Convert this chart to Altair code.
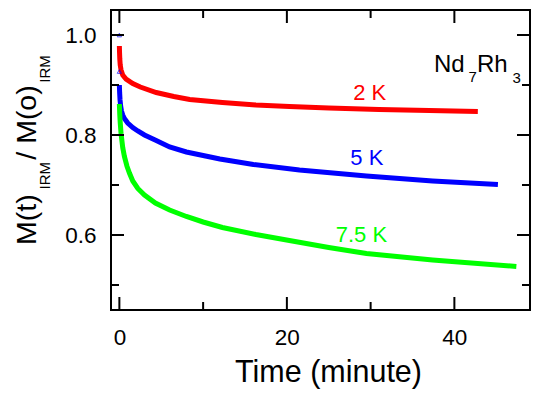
import altair as alt
import pandas as pd

# ---- data ----
red_t = [0, 0.02, 0.05, 0.1, 0.2, 0.4, 0.8, 1.6, 2.5, 4.4, 6.5, 8.4, 12.3, 16.3, 20.3, 25, 31, 37, 42.8]
red_v = [0.978, 0.965, 0.952, 0.94, 0.93, 0.92, 0.912, 0.903, 0.896, 0.885, 0.877, 0.871, 0.865, 0.86, 0.857, 0.854, 0.851, 0.849, 0.847]

blue_t = [0, 0.03, 0.08, 0.15, 0.25, 0.4, 0.6, 1.0, 1.6, 2.2, 3, 4.4, 6, 8, 12, 16, 21.5, 29.5, 37.4, 45.2]
blue_v = [0.9, 0.885, 0.87, 0.858, 0.848, 0.84, 0.833, 0.824, 0.815, 0.808, 0.8, 0.789, 0.776, 0.766, 0.752, 0.741, 0.73, 0.718, 0.708, 0.701]

green_t = [0, 0.05, 0.1, 0.2, 0.4, 0.6, 0.9, 1.2, 1.6, 2.2, 3, 4.3, 6, 8, 10, 12.3, 16.3, 20.3, 25, 29.5, 37.4, 47.4]
green_v = [0.862, 0.84, 0.825, 0.803, 0.775, 0.757, 0.738, 0.724, 0.708, 0.693, 0.68, 0.664, 0.65, 0.637, 0.626, 0.615, 0.601, 0.589, 0.575, 0.563, 0.55, 0.537]

outlier_t = [0, 0]
outlier_v = [1.0, 0.927]

series_names = ["2 K", "5 K", "7.5 K"]
series_colors = ["#ff0000", "#0000ff", "#00ff00"]
label_t = [29.9, 29.55, 28.9]
label_v = [0.87, 0.74, 0.587]

x_major = [0, 20, 40]
x_minor = [10, 30]
y_major = [0.6, 0.8, 1.0]
y_minor = [0.5, 0.7, 0.9]

W, H = 419, 300
PX_X = 8.375          # pixels per minute
PX_Y = 500.0          # pixels per unit of M/M0
X_DOMAIN = [-1, -1 + W / PX_X]
Y_DOMAIN = [0.45, 1.05]
FONT = "Liberation Sans"
MAJ, MIN = 13, 8

rows = []
for name, ts, vs in zip(series_names, [red_t, blue_t, green_t], [red_v, blue_v, green_v]):
    for t, v in zip(ts, vs):
        rows.append({"t": t, "v": v, "series": name})
curves = pd.DataFrame(rows)

xs = alt.Scale(domain=X_DOMAIN, nice=False, zero=False)
ys = alt.Scale(domain=Y_DOMAIN, nice=False, zero=False)
x_axis = alt.Axis(values=x_major, ticks=False, domain=False, grid=False, title=None,
                  labelFontSize=22.5, labelPadding=16, labelFont=FONT, labelColor="black",
                  labelFlush=False, format=".0f")
y_axis = alt.Axis(values=y_major, ticks=False, domain=False, grid=False, title=None,
                  labelFontSize=22.5, labelPadding=15, labelFont=FONT, labelColor="black",
                  format=".1f")
X = alt.X("t:Q", scale=xs, axis=x_axis)
Y = alt.Y("v:Q", scale=ys, axis=y_axis)
color = alt.Color("series:N", scale=alt.Scale(domain=series_names, range=series_colors), legend=None)

lines = alt.Chart(curves).mark_line(strokeWidth=5, clip=True).encode(x=X, y=Y, color=color, detail="series:N")

outl = alt.Chart(pd.DataFrame({"t": outlier_t, "v": outlier_v})).mark_point(
    shape="triangle-up", size=18, color="#0000ff", filled=False, strokeWidth=1
).encode(x=X, y=Y)

labels = alt.Chart(pd.DataFrame({"t": label_t, "v": label_v, "series": series_names})).mark_text(
    fontSize=22, font=FONT, align="center", baseline="alphabetic"
).encode(x=X, y=Y, text="series:N", color=color)

# inward ticks on all four sides, as rules in data units
def xticks(vals, length, top):
    if top:
        a, b = Y_DOMAIN[1], Y_DOMAIN[1] - length / PX_Y
    else:
        a, b = Y_DOMAIN[0], Y_DOMAIN[0] + length / PX_Y
    df = pd.DataFrame({"t": vals, "a": [a] * len(vals), "b": [b] * len(vals)})
    return alt.Chart(df).mark_rule(color="black", strokeWidth=2).encode(
        x=alt.X("t:Q", scale=xs, axis=x_axis),
        y=alt.Y("a:Q", scale=ys, axis=y_axis), y2="b:Q")

def yticks(vals, length, right):
    if right:
        a, b = X_DOMAIN[1], X_DOMAIN[1] - length / PX_X
    else:
        a, b = X_DOMAIN[0], X_DOMAIN[0] + length / PX_X
    df = pd.DataFrame({"v": vals, "a": [a] * len(vals), "b": [b] * len(vals)})
    return alt.Chart(df).mark_rule(color="black", strokeWidth=2).encode(
        y=alt.Y("v:Q", scale=ys, axis=y_axis),
        x=alt.X("a:Q", scale=xs, axis=x_axis), x2="b:Q")

ticks = [
    xticks(x_major, MAJ, False), xticks(x_minor, MIN, False),
    xticks(x_major, MAJ, True), xticks(x_minor, MIN, True),
    yticks(y_major, MAJ, False), yticks(y_minor, MIN, False),
    yticks(y_major, MAJ, True), yticks(y_minor, MIN, True),
]

def txt(s, x, y, size, angle=0, align="left"):
    return alt.Chart(pd.DataFrame({"s": [s]})).mark_text(
        fontSize=size, font=FONT, align=align, baseline="alphabetic", angle=angle, color="black"
    ).encode(text="s:N", x=alt.value(x), y=alt.value(y))

annot = [
    txt("Nd", 323, 61.7, 24), txt("7", 357.5, 72, 15),
    txt("Rh", 366, 61.7, 24), txt("3", 401.4, 73, 15),
    txt("Time (minute)", 217.5, 371.7, 30.5, align="center"),
    txt("M(t)", -75, 235, 28.5, angle=270),
    txt("IRM", -61, 179.4, 15, angle=270),
    txt("/ M(o)", -75, 149.7, 28.5, angle=270),
    txt("IRM", -61, 72.7, 15, angle=270),
]

chart = alt.layer(lines, outl, labels, *ticks, *annot).properties(
    width=W, height=H,
    autosize=alt.AutoSizeParams(type="none"),
    padding={"left": 103, "top": 2, "right": 1, "bottom": 80},
).configure(background="white").configure_view(stroke="black", strokeWidth=2)

chart.save("out.html", embed_options={"renderer": "svg", "actions": False})
